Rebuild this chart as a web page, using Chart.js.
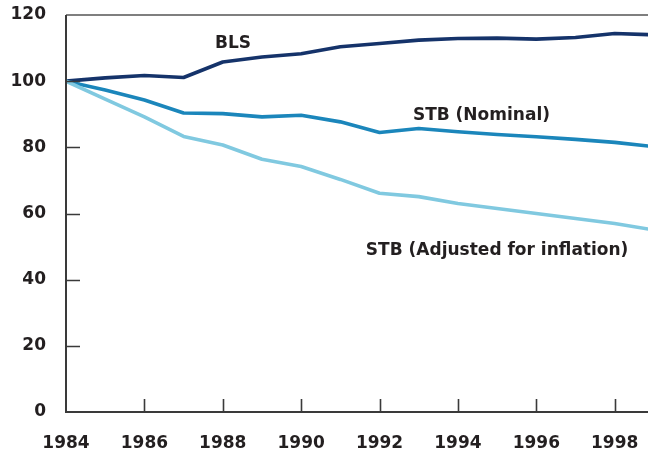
<!DOCTYPE html>
<html>
<head>
<meta charset="utf-8">
<script src="https://cdn.jsdelivr.net/npm/chart.js@4/dist/chart.umd.min.js"></script>
<style>
  html, body { margin: 0; padding: 0; background: #fff; }
  #wrap { width: 648px; height: 451px; position: relative; }
</style>
</head>
<body>
<div id="wrap"><canvas id="chart"></canvas></div>
<script>
'use strict';

// ── Datos (índice 1984 = 100) ────────────────────────
const years    = [1984, 1985, 1986, 1987, 1988, 1989, 1990, 1991, 1992, 1993, 1994, 1995, 1996, 1997, 1998, 1999];
const bls      = [100, 101, 101.7, 101.1, 105.8, 107.3, 108.3, 110.4, 111.4, 112.4, 112.9, 113, 112.7, 113.2, 114.4, 114];
const nominal  = [100, 97.3, 94.3, 90.4, 90.2, 89.2, 89.7, 87.7, 84.5, 85.7, 84.7, 83.9, 83.2, 82.4, 81.5, 80.2];
const adjusted = [100, 94.6, 89.2, 83.3, 80.7, 76.4, 74.2, 70.3, 66.1, 65.1, 63.0, 61.5, 60.0, 58.5, 57.0, 55.0];

const xTicks = [1984, 1986, 1988, 1990, 1992, 1994, 1996, 1998];
const yTicks = [0, 20, 40, 60, 80, 100, 120];

// Etiquetas de serie (ancladas en unidades de datos)
const seriesLabels = ['BLS', 'STB (Nominal)', 'STB (Adjusted for inflation)'];
const labelYears   = [1988.26, 1994.6, 1995.0];
const labelValues  = [111.5, 89.7, 48.9];

// ── Paleta ─────
const NAVY  = '#15336a';
const MID   = '#1b86bb';
const LIGHT = '#80c9e0';
const INK   = '#231f20';
const AXIS  = '#3a3a3a';

Chart.defaults.font.family = "'DejaVu Sans', sans-serif";
Chart.defaults.font.weight = 'bold';
Chart.defaults.font.size = 17;
Chart.defaults.color = INK;

function series(values) {
  return years.map((y, i) => ({ x: y, y: values[i] }));
}

// Ejes, marcas interiores, borde superior y etiquetas
const framePlugin = {
  id: 'frame',
  afterDatasetsDraw(chart) {
    const { ctx, scales: { x, y } } = chart;
    const left = x.getPixelForValue(1984);
    const right = chart.width;
    const top = y.getPixelForValue(120);
    const bottom = y.getPixelForValue(0);
    ctx.save();
    ctx.lineCap = 'butt';

    // borde superior
    ctx.strokeStyle = '#555';
    ctx.lineWidth = 1.6;
    ctx.beginPath();
    ctx.moveTo(left, top);
    ctx.lineTo(right, top);
    ctx.stroke();

    // ejes
    ctx.strokeStyle = AXIS;
    ctx.lineWidth = 2;
    ctx.beginPath();
    ctx.moveTo(left, top);
    ctx.lineTo(left, bottom);
    ctx.lineTo(right, bottom);
    ctx.stroke();

    // marcas
    ctx.lineWidth = 1.6;
    ctx.beginPath();
    xTicks.slice(1).forEach(v => {
      const px = Math.round(x.getPixelForValue(v)) + 0.5;
      ctx.moveTo(px, bottom);
      ctx.lineTo(px, bottom - 13);
    });
    yTicks.slice(1, -1).forEach(v => {
      const py = Math.round(y.getPixelForValue(v)) + 0.5;
      ctx.moveTo(left, py);
      ctx.lineTo(left + 14, py);
    });
    ctx.stroke();

    // etiquetas de serie
    ctx.fillStyle = INK;
    ctx.font = "bold 17px 'DejaVu Sans', sans-serif";
    ctx.textAlign = 'center';
    ctx.textBaseline = 'middle';
    seriesLabels.forEach((t, i) => {
      ctx.fillText(t, x.getPixelForValue(labelYears[i]), y.getPixelForValue(labelValues[i]));
    });
    ctx.restore();
  }
};

const lineStyle = {
  fill: false,
  tension: 0,
  borderWidth: 3.6,
  borderJoinStyle: 'round',
  pointRadius: 0,
};

new Chart(document.getElementById('chart'), {
  type: 'line',
  data: {
    datasets: [
      { ...lineStyle, label: 'STB (Adjusted for inflation)', data: series(adjusted), borderColor: LIGHT },
      { ...lineStyle, label: 'STB (Nominal)', data: series(nominal), borderColor: MID },
      { ...lineStyle, label: 'BLS', data: series(bls), borderColor: NAVY },
    ]
  },
  options: {
    responsive: true,
    maintainAspectRatio: false,
    animation: false,
    layout: { padding: { top: 15, right: 0, left: 0, bottom: 0 } },
    plugins: {
      legend: { display: false },
      tooltip: { enabled: false }
    },
    scales: {
      x: {
        type: 'linear',
        min: 1984,
        max: 1998.85,
        afterBuildTicks: (scale) => { scale.ticks = xTicks.map(v => ({ value: v })); },
        afterFit: (scale) => {
          scale.height = 39;
          scale.paddingLeft = 0;
          scale.paddingRight = 0;
        },
        grid: { display: false, drawTicks: false },
        border: { display: false },
        ticks: {
          color: INK,
          padding: 21,
          maxRotation: 0,
          autoSkip: false,
          callback: (v) => String(v)
        }
      },
      y: {
        min: 0,
        max: 120,
        afterBuildTicks: (scale) => { scale.ticks = yTicks.map(v => ({ value: v })); },
        afterFit: (scale) => {
          scale.width = 66;
          scale.paddingTop = 0;
          scale.paddingBottom = 0;
        },
        grid: { display: false, drawTicks: false },
        border: { display: false },
        ticks: {
          color: INK,
          padding: 20,
          callback: (v) => String(v)
        }
      }
    }
  },
  plugins: [framePlugin]
});
</script>
</body>
</html>
